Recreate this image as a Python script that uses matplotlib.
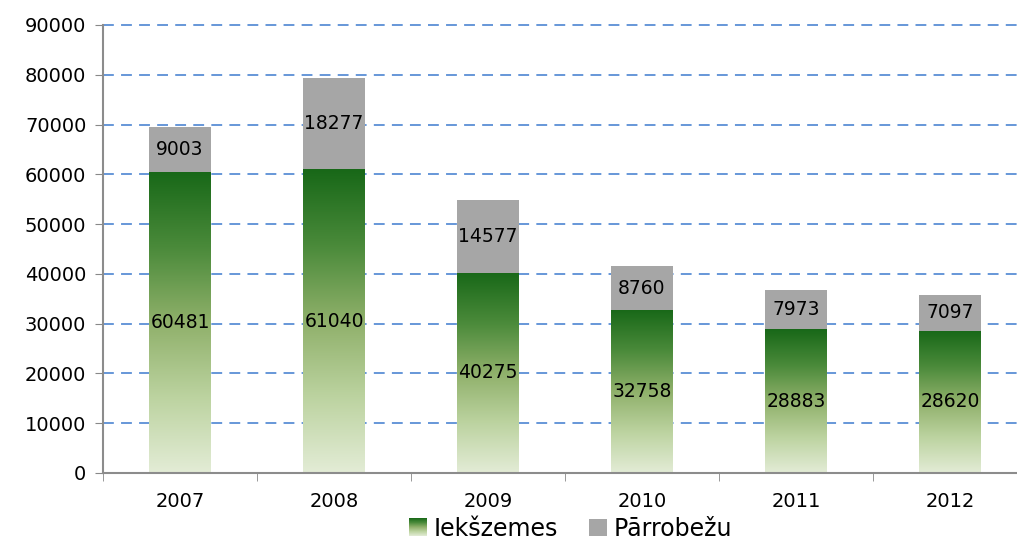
import matplotlib
matplotlib.use("Agg")
import matplotlib.pyplot as plt
import numpy as np
from matplotlib.colors import LinearSegmentedColormap
from matplotlib.patches import Rectangle, Patch
import matplotlib.legend_handler as lh
from matplotlib.image import BboxImage
from matplotlib.transforms import Bbox, TransformedBbox

years = ["2007", "2008", "2009", "2010", "2011", "2012"]
domestic = [60481, 61040, 40275, 32758, 28883, 28620]
foreign = [9003, 18277, 14577, 8760, 7973, 7097]

plt.rcParams['font.family'] = ['DejaVu Sans']

W, H = 1017, 543
fig = plt.figure(figsize=(W/100, H/100), dpi=100)
ax = fig.add_axes([103/W, 1-473/H, (1017-103)/W, (473-25)/H])

x = np.arange(len(years))
bw = 62/154
cmap = LinearSegmentedColormap.from_list(
    "g", [(0, "#e3ecd6"), (0.25, "#bcd3a0"), (0.5, "#8fb06a"), (0.75, "#4a8a3a"), (1, "#186818")])
grad = np.linspace(0, 1, 256).reshape(-1, 1)

for i, (d, f) in enumerate(zip(domestic, foreign)):
    rect = Rectangle((x[i]-bw/2, 0), bw, d, facecolor='none', edgecolor='none')
    ax.add_patch(rect)
    im = ax.imshow(grad, cmap=cmap, origin='lower', aspect='auto',
                   extent=(x[i]-bw/2, x[i]+bw/2, 0, d), zorder=2)
    im.set_clip_path(rect)
    ax.bar(x[i], f, bw, bottom=d, color='#a6a6a6', zorder=2)
    ax.text(x[i], d/2, str(d), ha='center', va='center', zorder=3, fontsize=13.5)
    ax.text(x[i], d + f/2, str(f), ha='center', va='center', zorder=3, fontsize=13.5)

ax.set_aspect('auto')

ax.set_yticks(np.arange(0, 90001, 10000))
ax.set_yticklabels([str(v) for v in range(0, 90001, 10000)], fontsize=14)
ax.set_xticks(x)
ax.set_xticklabels(years, fontsize=14)
ax.tick_params(axis='x', length=0, pad=14)
ax.set_xticks(np.arange(-0.5, 5.0, 1), minor=True)
ax.tick_params(axis='x', which='minor', length=6, color='#888888')
ax.tick_params(axis='y', length=6, color='#888888', direction='out', pad=6)
ax.set_xlim(-0.5, -0.5 + 914/154)
ax.set_ylim(0, 90000)

ax.yaxis.grid(True, color='#5a8fd6', linestyle=(0, (6, 4)), linewidth=1.3)
for gl in ax.get_ygridlines():
    gl.set_clip_on(False)
ax.set_axisbelow(True)
for s in ['top', 'right']:
    ax.spines[s].set_visible(False)
for s in ['left', 'bottom']:
    ax.spines[s].set_color('#8c8c8c')
    ax.spines[s].set_linewidth(1.5)


class HandlerGrad(lh.HandlerBase):
    def create_artists(self, legend, orig_handle, xdescent, ydescent, width, height, fontsize, trans):
        s = min(width, height)
        x0 = -xdescent + (width - s)
        y0 = -ydescent + (height - s)/2
        bb = Bbox.from_bounds(x0, y0, s, s)
        tbb = TransformedBbox(bb, trans)
        img = BboxImage(tbb, cmap=cmap, origin='lower')
        img.set_data(grad)
        return [img]


class HandlerSq(lh.HandlerBase):
    def create_artists(self, legend, orig_handle, xdescent, ydescent, width, height, fontsize, trans):
        s = min(width, height)
        x0 = -xdescent + (width - s)
        y0 = -ydescent + (height - s)/2
        r = Rectangle((x0, y0), s, s, facecolor='#a6a6a6', edgecolor='none', transform=trans)
        return [r]


h1 = Patch()
h2 = Patch(facecolor='#a6a6a6')
fig.legend([h1, h2], ["Iekšzemes", "Pārrobežu"], loc='center', bbox_to_anchor=(0.561, 1-529/H),
           ncol=2, frameon=False, fontsize=17, handler_map={h1: HandlerGrad(), h2: HandlerSq()},
           handlelength=0.75, handleheight=0.75, handletextpad=0.3, columnspacing=1.3, borderpad=0)

fig.savefig("out.png", dpi=100)
